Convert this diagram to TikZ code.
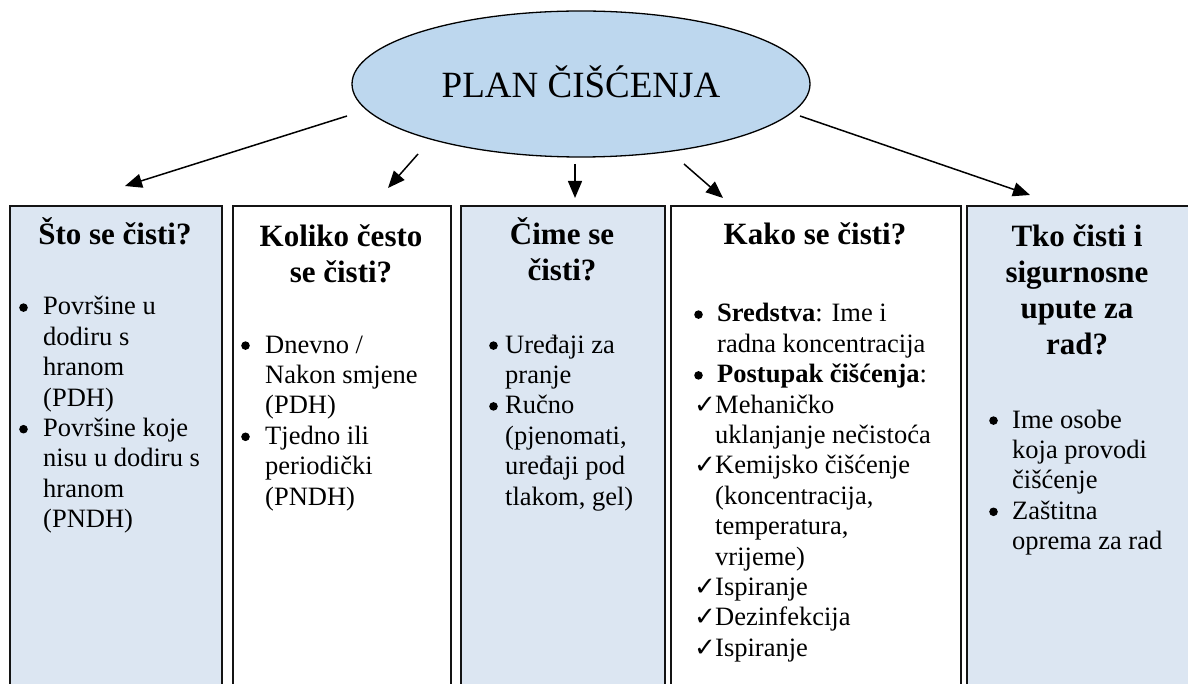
\documentclass[tikz,border=0pt]{standalone}
\usepackage{fontspec}
\setmainfont{Liberation Serif}
\newfontfamily\symfont{DejaVu Sans}
\usetikzlibrary{arrows.meta,shapes.geometric}
\definecolor{ellfill}{HTML}{BDD7EE}
\definecolor{boxfill}{HTML}{DCE6F2}
\definecolor{boxline}{HTML}{141414}
\newcommand{\dotb}{\tikz[baseline=0pt,x=1pt,y=1pt]\fill[black] (3.6,7.4) circle [radius=4.3pt];}
\newcommand{\blt}[1]{\noindent\hangindent=#1\hangafter=1\makebox[#1][l]{\dotb}}
\newcommand{\chk}[1]{\noindent\hangindent=#1\hangafter=1\makebox[#1][l]{{\symfont\fontsize{26}{26}\selectfont ✓}}}
\newcommand{\hdrfont}{\fontsize{31}{36}\selectfont\bfseries}
\newcommand{\bodyfont}{\fontsize{26.5}{30.4}\selectfont}
\tikzset{
  colbox/.style={draw=boxline, line width=2pt, rectangle, anchor=north west, inner sep=0pt, minimum height=520pt},
  hdr/.style={anchor=base, inner sep=0pt},
  body/.style={anchor=base west, inner sep=0pt},
  arr/.style={line width=1.5pt, -{Triangle[length=17pt,width=14pt]}}
}
\begin{document}
\begin{tikzpicture}[x=1pt,y=-1pt]
\useasboundingbox (0,0) rectangle (1188,684);
\begin{scope}
\clip (0,0) rectangle (1188,684);
% ellipse
\node[ellipse, draw=black, fill=ellfill, line width=1.3pt, minimum width=458pt, minimum height=146pt, inner sep=0pt] (ell) at (581,84) {};
\node[anchor=base, inner sep=0pt, font=\fontsize{37}{40}\selectfont] (title) at (581,98) {PLAN ČIŠĆENJA};
% boxes
\node[colbox, fill=boxfill, minimum width=212pt] (b1) at (9,205) {};
\node[colbox, fill=white, minimum width=218pt] (b2) at (232,205) {};
\node[colbox, fill=boxfill, minimum width=204pt] (b3) at (460,205) {};
\node[colbox, fill=white, minimum width=290pt] (b4) at (670,205) {};
\node[colbox, fill=boxfill, minimum width=240pt] (b5) at (966,205) {};
% headers
\node[hdr] (h1) at (115,245) {\parbox[t]{205pt}{\centering\hdrfont Što se čisti?}};
\node[hdr] (h2) at (341,247) {\parbox[t]{210pt}{\centering\hdrfont Koliko često\\se čisti?}};
\node[hdr] (h3) at (562,245) {\parbox[t]{200pt}{\centering\hdrfont Čime se\\čisti?}};
\node[hdr] (h4) at (815,245) {\parbox[t]{280pt}{\centering\hdrfont Kako se čisti?}};
\node[hdr] (h5) at (1077,247) {\parbox[t]{210pt}{\centering\hdrfont Tko čisti i\\sigurnosne\\upute za\\rad?}};
% bodies
\node[body] (t1) at (19,315) {\parbox[t]{200pt}{\bodyfont
\blt{24pt}Površine u\\dodiru s\\hranom\\(PDH)\par
\blt{24pt}Površine koje\\nisu u dodiru s\\hranom\\(PNDH)\par}};
\node[body] (t2) at (241,353) {\parbox[t]{205pt}{\bodyfont
\blt{24pt}Dnevno /\\Nakon smjene\\(PDH)\par
\blt{24pt}Tjedno ili\\periodički\\(PNDH)\par}};
\node[body] (t3) at (489,353) {\parbox[t]{175pt}{\bodyfont
\blt{16pt}Uređaji za\\pranje\par
\blt{16pt}Ručno\\(pjenomati,\\uređaji pod\\tlakom, gel)\par}};
\node[body] (t4) at (694,322) {\parbox[t]{265pt}{\bodyfont
\blt{23pt}\textbf{Sredstva}: Ime i\\radna koncentracija\par
\blt{23pt}\textbf{Postupak čišćenja}:\par
\chk{21pt}Mehaničko\\uklanjanje nečistoća\par
\chk{21pt}Kemijsko čišćenje\\(koncentracija,\\temperatura,\\vrijeme)\par
\chk{21pt}Ispiranje\par
\chk{21pt}Dezinfekcija\par
\chk{21pt}Ispiranje\par}};
\node[body] (t5) at (989,428) {\parbox[t]{195pt}{\bodyfont
\blt{23pt}Ime osobe\\koja provodi\\čišćenje\par
\blt{23pt}Zaštitna\\oprema za rad\par}};
% arrows
\coordinate (s1) at (347,116); \coordinate (e1) at (125,186);
\coordinate (s2) at (418,154); \coordinate (e2) at (388,188);
\coordinate (s3) at (575,164); \coordinate (e3) at (575,198);
\coordinate (s4) at (684,164); \coordinate (e4) at (723,198);
\coordinate (s5) at (800,116); \coordinate (e5) at (1030,195);
\draw[arr] (s1) -- (e1);
\draw[arr] (s2) -- (e2);
\draw[arr] (s3) -- (e3);
\draw[arr] (s4) -- (e4);
\draw[arr] (s5) -- (e5);
\end{scope}
\end{tikzpicture}
\end{document}
